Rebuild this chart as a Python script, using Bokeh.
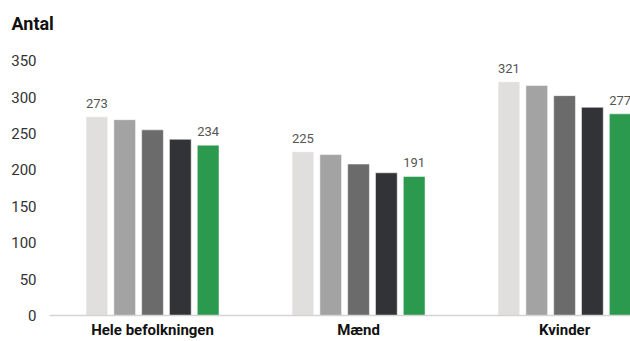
from bokeh.plotting import figure
from bokeh.models import ColumnDataSource, FixedTicker, LabelSet, Range1d
from bokeh.core.properties import value
from bokeh.embed import file_html
from bokeh.resources import INLINE

groups = ["Hele befolkningen", "Mænd", "Kvinder"]
s1 = [273, 225, 321]
s2 = [269, 221, 316]
s3 = [255, 208, 302]
s4 = [242, 196, 286]
s5 = [234, 191, 277]
series = [s1, s2, s3, s4, s5]
colors = ["#e0dfdd", "#a3a3a3", "#6b6b6b", "#323336", "#2b9a4f"]
y_ticks = [0, 50, 100, 150, 200, 250, 300, 350]

FONT = "Roboto"
step = 0.1350
bw = 0.1055

p = figure(width=630, height=341, output_backend="svg", toolbar_location=None,
           x_range=Range1d(-0.5, 2.32), y_range=Range1d(0, 375),
           min_border_left=49, min_border_right=0, min_border_top=42, min_border_bottom=26,
           title="Antal")
p.outline_line_color = None
p.xgrid.visible = False
p.ygrid.visible = False
p.background_fill_color = "white"

p.title.text_font = FONT
p.title.text_font_style = "bold"
p.title.text_font_size = "18px"
p.title.text_color = "#111111"
p.title.align = "left"
p.title.vertical_align = "bottom"
p.title.offset = -38
p.title.standoff = 17

for i, (vals, c) in enumerate(zip(series, colors)):
    xs = [g + (i - 2) * step for g in range(len(groups))]
    src = ColumnDataSource(dict(x=xs, top=vals, lab=[str(v) for v in vals]))
    p.vbar(x="x", top="top", width=bw, bottom=0, source=src,
           fill_color=c, line_color="white", line_width=0.5)
    if i in (0, 4):
        p.add_layout(LabelSet(x="x", y="top", text="lab", source=src,
                              text_align="center", text_baseline="alphabetic",
                              y_offset=9, text_font=value(FONT), text_font_size="13px",
                              text_color="#555555"))

p.xaxis.ticker = FixedTicker(ticks=list(range(len(groups))))
p.xaxis.major_label_overrides = {i: g for i, g in enumerate(groups)}
p.xaxis.major_tick_line_color = None
p.xaxis.minor_tick_line_color = None
p.xaxis.major_tick_out = 0
p.xaxis.major_tick_in = 0
p.xaxis.minor_tick_out = 0
p.xaxis.axis_line_color = "#d4d4d4"
p.xaxis.axis_line_width = 1.5
p.xaxis.major_label_standoff = 5
p.xaxis.major_label_text_font = FONT
p.xaxis.major_label_text_font_style = "bold"
p.xaxis.major_label_text_font_size = "15px"
p.xaxis.major_label_text_color = "#111111"

p.yaxis.ticker = FixedTicker(ticks=y_ticks)
p.yaxis.axis_line_color = None
p.yaxis.major_tick_line_color = None
p.yaxis.minor_tick_line_color = None
p.yaxis.major_tick_out = 0
p.yaxis.major_tick_in = 0
p.yaxis.minor_tick_out = 0
p.yaxis.major_label_standoff = 13
p.yaxis.major_label_text_font = FONT
p.yaxis.major_label_text_font_size = "15px"
p.yaxis.major_label_text_color = "#333333"

open("out.html", "w").write(file_html(p, INLINE))
